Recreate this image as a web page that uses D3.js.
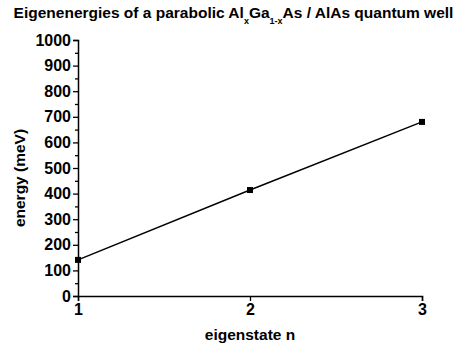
<!DOCTYPE html>
<html>
<head>
<meta charset="utf-8">
<script src="https://cdn.jsdelivr.net/npm/d3@7"></script>
<style>
  body { margin: 0; background: #fff; }
  text { font-family: "Liberation Sans", Arial, sans-serif; font-weight: bold; }
</style>
</head>
<body>
<svg id="chart" width="465" height="350"></svg>
<script>
// eigenstate index and energies (meV)
var states = [1, 2, 3];
var energies = [141, 414, 680];
var yTicks = [0, 100, 200, 300, 400, 500, 600, 700, 800, 900, 1000];
var yMinor = [50, 150, 250, 350, 450, 550, 650, 750, 850, 950];

var svg = d3.select('#chart');
var margin = {left: 78, right: 43, top: 40, bottom: 54};
var W = 465, H = 350;

var x = d3.scaleLinear().domain([1, 3]).range([margin.left, W - margin.right]);
var y = d3.scaleLinear().domain([0, 1000]).range([H - margin.bottom, margin.top]);

// y axis
var gy = svg.append('g').attr('transform', 'translate(' + margin.left + ',0)');
gy.call(d3.axisLeft(y).tickValues(yTicks).tickSize(5).tickPadding(2).tickFormat(d3.format('d')));
gy.append('g').call(d3.axisLeft(y).tickValues(yMinor).tickSize(3).tickFormat(''));
gy.selectAll('.domain').filter(function(d, i) { return i > 0; }).remove();

// x axis
var gx = svg.append('g').attr('transform', 'translate(0,' + (H - margin.bottom) + ')');
gx.call(d3.axisBottom(x).tickValues(states).tickSize(5).tickPadding(3).tickFormat(d3.format('d')));

svg.selectAll('.domain').attr('stroke', '#000').attr('stroke-width', 1.5);
svg.selectAll('.tick line').attr('stroke', '#000').attr('stroke-width', 1.3);
svg.selectAll('.tick text').attr('font-size', 16).attr('fill', '#000')
  .style('font-family', '"Liberation Sans", Arial, sans-serif').style('font-weight', 'bold');

// data line
var pts = states.map(function(s, i) { return [s, energies[i]]; });
svg.append('path')
  .datum(pts)
  .attr('fill', 'none')
  .attr('stroke', '#000')
  .attr('stroke-width', 1.5)
  .attr('d', d3.line().x(function(d) { return x(d[0]); }).y(function(d) { return y(d[1]); }));

svg.selectAll('rect.pt')
  .data(pts)
  .enter().append('rect')
  .attr('class', 'pt')
  .attr('x', function(d) { return x(d[0]) - 3; })
  .attr('y', function(d) { return y(d[1]) - 3; })
  .attr('width', 6)
  .attr('height', 6)
  .attr('fill', '#000');

// title with subscripts
var title = svg.append('text')
  .attr('x', W / 2 + 1)
  .attr('y', 18)
  .attr('text-anchor', 'middle')
  .attr('font-size', 15.5)
  .attr('fill', '#000');
title.append('tspan').text('Eigenenergies of a parabolic Al');
title.append('tspan').attr('dy', 6).attr('font-size', 9).text('x');
title.append('tspan').attr('dy', -6).text('Ga');
title.append('tspan').attr('dy', 6).attr('font-size', 9).text('1-x');
title.append('tspan').attr('dy', -6).text('As / AlAs quantum well');

// axis labels
svg.append('text')
  .attr('x', x(2))
  .attr('y', 340)
  .attr('text-anchor', 'middle')
  .attr('font-size', 15.5)
  .attr('fill', '#000')
  .text('eigenstate n');

svg.append('text')
  .attr('transform', 'translate(25,' + (y(500) + 10) + ') rotate(-90)')
  .attr('text-anchor', 'middle')
  .attr('font-size', 15.5)
  .attr('fill', '#000')
  .text('energy (meV)');
</script>
</body>
</html>
